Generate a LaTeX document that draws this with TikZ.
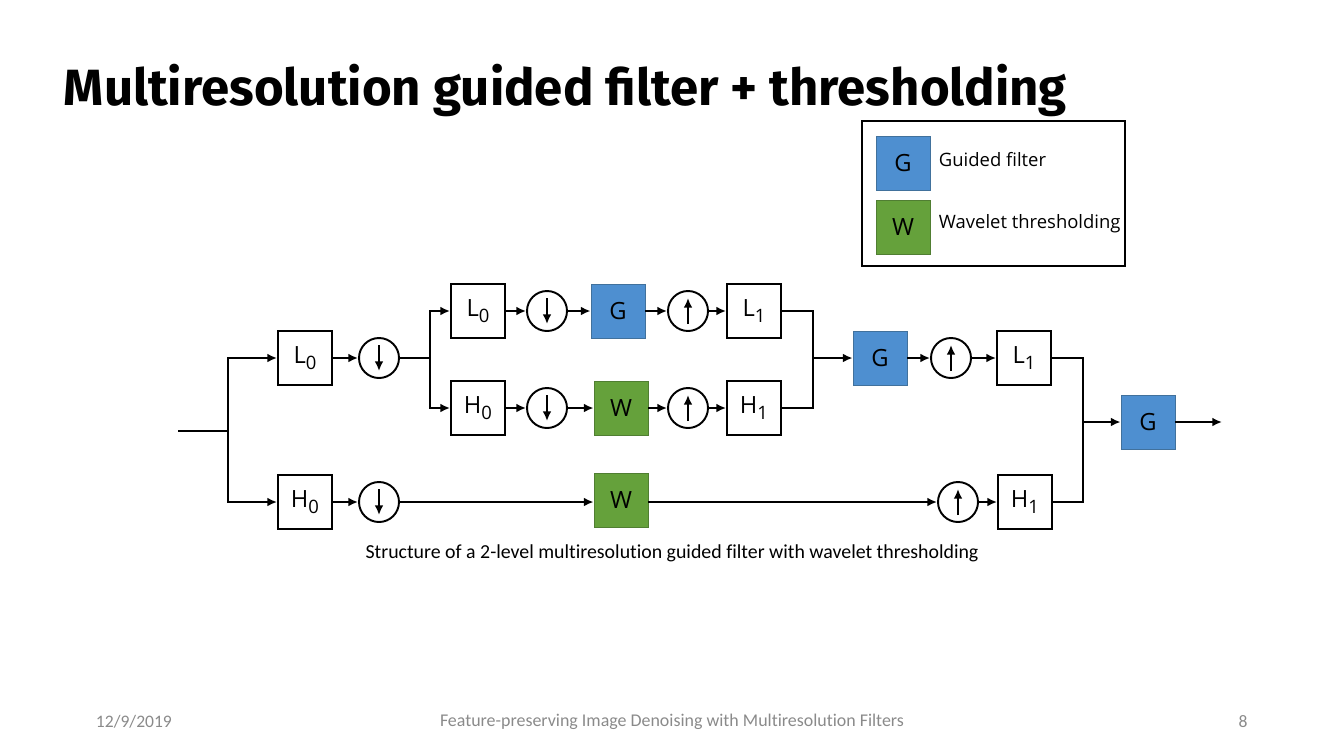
\documentclass[tikz,border=0pt]{standalone}
\usepackage{fontspec}
\setmainfont{Open Sans}
\newfontfamily\titlefont{Fira Sans}
\newfontfamily\capfont[Ligatures=NoCommon]{Carlito}
\usetikzlibrary{arrows.meta}

\definecolor{gblue}{HTML}{4E8FD0}
\definecolor{gblueline}{HTML}{41719C}
\definecolor{wgreen}{HTML}{65A13B}
\definecolor{wgreenline}{HTML}{507E32}
\definecolor{footgray}{HTML}{8A8A8A}

\newcommand{\sub}[1]{\raisebox{-0.45ex}{\fontsize{10.5}{10.5}\selectfont #1}}

\tikzset{
  blk/.style = {draw, line width=1.1pt, minimum size=1.08cm, inner sep=0pt, fill=white, font=\fontsize{13.5}{13.5}\selectfont},
  gbox/.style = {blk, draw=gblueline, line width=0.5pt, fill=gblue},
  wbox/.style = {blk, draw=wgreenline, line width=0.5pt, fill=wgreen},
  samp/.style = {draw, circle, line width=1.1pt, minimum size=0.8cm, inner sep=0pt},
  tip/.style = {-{Latex[length=5.5pt,width=5pt]}},
  wire/.style = {line width=1.1pt}
}

\begin{document}
\begin{tikzpicture}[x=0.02cm, y=-0.02cm, wire]
\useasboundingbox (0,0) rectangle (1343,745);

\node[anchor=base west, inner sep=0pt, font=\titlefont\bfseries\fontsize{29}{29}\selectfont] (title) at (63,105) {Multiresolution guided filter + thresholding};

% legend
\draw[line width=1.1pt] (862,121) rectangle (1125,266);
\node[gbox] (legG) at (903,163) {G};
\node[wbox] (legW) at (903,227) {W};
\node[anchor=west, inner sep=0pt, font=\fontsize{10.5}{10.5}\selectfont] (legGtxt) at (938,160) {Guided filter};
\node[anchor=west, inner sep=0pt, font=\fontsize{10.5}{10.5}\selectfont] (legWtxt) at (938,224) {Wavelet thresholding};

% first level
\coordinate (in) at (178,431);
\coordinate (j1) at (228,431);
\node[blk] (L0a) at (305,358) {L\sub{0}};
\node[samp] (dn1) at (379,358) {};
\coordinate (j2) at (430,358);
\node[blk] (H0a) at (305,502) {H\sub{0}};
\node[samp] (dn4) at (379,502) {};
\node[wbox] (Wb) at (621,500) {W};
\node[samp] (up4) at (958,502) {};
\node[blk] (H1b) at (1025,502) {H\sub{1}};

% second level
\node[blk] (L0b) at (478,311) {L\sub{0}};
\node[samp] (dn2) at (547,311) {};
\node[gbox] (Ga) at (618,311) {G};
\node[samp] (up1) at (688,311) {};
\node[blk] (L1a) at (754,311) {L\sub{1}};
\node[blk] (H0b) at (478,408) {H\sub{0}};
\node[samp] (dn3) at (547,408) {};
\node[wbox] (Wa) at (621,408) {W};
\node[samp] (up2) at (688,408) {};
\node[blk] (H1a) at (754,408) {H\sub{1}};
\coordinate (j3) at (813,358);

\node[gbox] (Gb) at (880,358) {G};
\node[samp] (up3) at (951,358) {};
\node[blk] (L1b) at (1024,358) {L\sub{1}};
\coordinate (j4) at (1083,422);
\node[gbox] (Gc) at (1148,422) {G};
\coordinate (out) at (1222,422);

\foreach \n in {dn1,dn2,dn3,dn4}
  \draw[tip, line width=1.4pt] (\n) ++(0,-13) -- ++(0,26);
\foreach \n in {up1,up2,up3,up4}
  \draw[tip, line width=1.4pt] (\n) ++(0,13) -- ++(0,-26);

\draw (in) -- (j1);
\draw[tip] (j1) |- (L0a);
\draw[tip] (j1) |- (H0a);
\draw[tip] (L0a) -- (dn1);
\draw (dn1) -- (j2);
\draw[tip] (j2) |- (L0b);
\draw[tip] (j2) |- (H0b);
\draw[tip] (L0b) -- (dn2);
\draw[tip] (dn2) -- (Ga);
\draw[tip] (Ga) -- (up1);
\draw[tip] (up1) -- (L1a);
\draw[tip] (H0b) -- (dn3);
\draw[tip] (dn3) -- (Wa);
\draw[tip] (Wa) -- (up2);
\draw[tip] (up2) -- (H1a);
\draw (L1a) -| (j3);
\draw (H1a) -| (j3);
\draw[tip] (j3) -- (Gb);
\draw[tip] (Gb) -- (up3);
\draw[tip] (up3) -- (L1b);
\draw[tip] (H0a) -- (dn4);
\draw[tip] (dn4) -- (Wb.west |- dn4);
\draw[tip] (Wb.east |- up4) -- (up4);
\draw[tip] (up4) -- (H1b);
\draw (L1b) -| (j4);
\draw (H1b) -| (j4);
\draw[tip] (j4) -- (Gc);
\draw[tip] (Gc) -- (out);

\node[font=\capfont\fontsize{11.3}{11.3}\selectfont] (caption) at (672,553) {Structure of a 2-level multiresolution guided filter with wavelet thresholding};

% footer
\node[anchor=west, inner sep=0pt, text=footgray, font=\capfont\fontsize{10}{10}\selectfont] (date) at (95,722) {12/9/2019};
\node[text=footgray, inner sep=0pt, font=\capfont\fontsize{10.2}{10.2}\selectfont] (foot) at (672,722) {Feature-preserving Image Denoising with Multiresolution Filters};
\node[text=footgray, inner sep=0pt, font=\capfont\fontsize{10}{10}\selectfont] (page) at (1243,722) {8};
\end{tikzpicture}
\end{document}
